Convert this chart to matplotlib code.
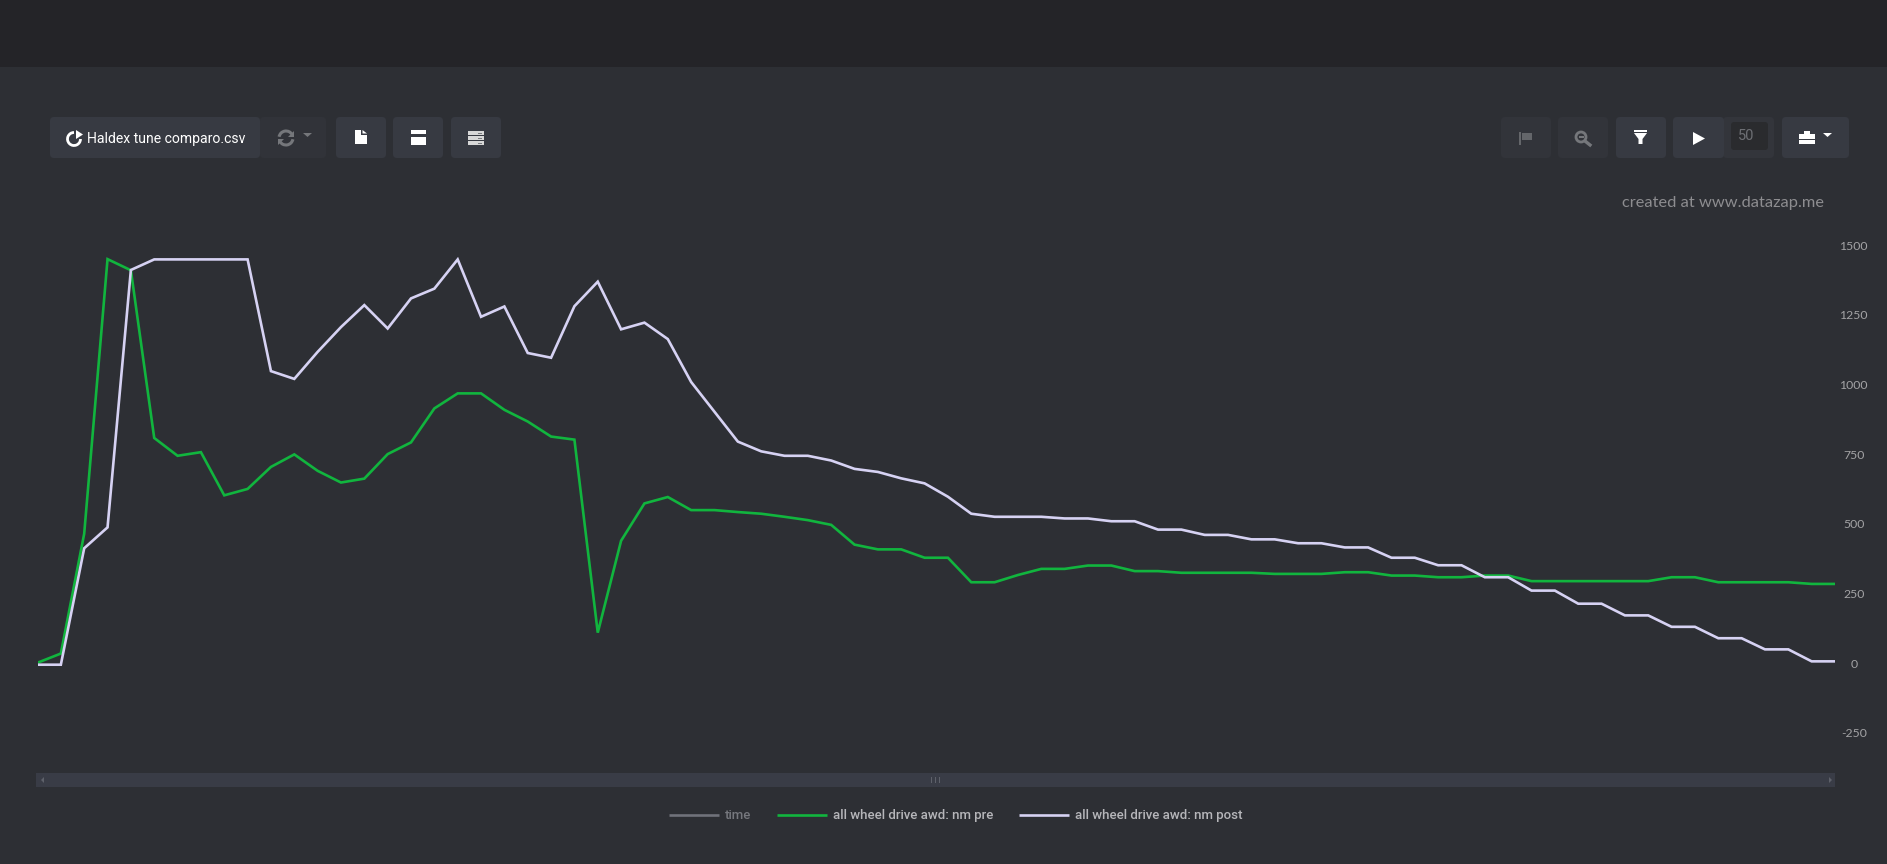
import matplotlib
matplotlib.use("Agg")
import matplotlib.pyplot as plt
from matplotlib.patches import FancyBboxPatch, Polygon, Rectangle, Arc, Circle
from matplotlib.transforms import ScaledTranslation

W, H = 1887, 864

# values (one sample per step, 78 samples)
nm_pre = [7, 40, 470, 1456, 1416, 814, 750, 763, 608, 631, 710, 755, 696, 654, 668, 756, 798,
          920, 974, 974, 915, 873, 819, 808, 115, 445, 579, 602, 555, 555, 548, 542, 531, 519,
          502, 431, 414, 414, 384, 384, 296, 296, 322, 344, 344, 356, 356, 336, 336, 330, 330,
          330, 330, 326, 326, 326, 332, 332, 320, 320, 314, 314, 320, 320, 300, 300, 300, 300,
          300, 300, 314, 314, 296, 296, 296, 296, 290, 290]
nm_post = [0, 0, 418, 493, 1417, 1455, 1455, 1455, 1455, 1455, 1054, 1026, 1123, 1212, 1291, 1207,
           1315, 1350, 1455, 1249, 1286, 1119, 1102, 1287, 1375, 1204, 1228, 1169, 1015, 908, 801,
           766, 750, 750, 733, 703, 692, 669, 651, 603, 542, 531, 531, 531, 525, 525, 515, 515,
           485, 485, 466, 466, 450, 450, 436, 436, 421, 421, 384, 384, 357, 357, 314, 314, 266,
           266, 219, 219, 177, 177, 136, 136, 95, 95, 55, 55, 12, 12]
y_ticks = [-250, 0, 250, 500, 750, 1000, 1250, 1500]
y_labels = ['-250', '0', '250', '500', '750', '1000', '1250', '1500']

BG = '#2d2f34'
TOP = '#242428'
BTN = '#373a42'
FAINT = '#32343a'
GREEN = '#11b53e'
LAVENDER = '#d6d2f3'

plt.rcParams['font.family'] = ['Roboto', 'DejaVu Sans']

fig = plt.figure(figsize=(W / 100, H / 100), dpi=100, facecolor=BG)

# chart axes, sized in pixels of the screenshot
left, right, top, bottom = 37.5, 1835, 235, 760
zero_y = 664.7
units_per_px = 3.59
ax = fig.add_axes([left / W, 1 - bottom / H, (right - left) / W, (bottom - top) / H])
ax.set_facecolor('none')
ax.plot(range(len(nm_pre)), nm_pre, color=GREEN, lw=1.9, solid_joinstyle='miter', solid_capstyle='butt')
ax.plot(range(len(nm_post)), nm_post, color=LAVENDER, lw=1.9, solid_joinstyle='miter', solid_capstyle='butt')
ax.set_xlim(0, len(nm_pre) - 1)
ax.set_ylim((zero_y - bottom) * units_per_px, (zero_y - top) * units_per_px)
ax.yaxis.tick_right()
ax.set_yticks(y_ticks)
ax.set_yticklabels(y_labels, family='Lato', fontsize=8.8, color='#a3a3a5', ha='center', va='center')
ax.tick_params(axis='y', length=0, pad=13.5)
# the labels sit a little above the zero of the lines
shift = ScaledTranslation(0, 0.7 / 100, fig.dpi_scale_trans)
for lab in ax.get_yticklabels():
    lab.set_transform(lab.get_transform() + shift)
ax.set_xticks([])
for s in ax.spines.values():
    s.set_visible(False)

# page chrome, drawn in screenshot pixels
ui = fig.add_axes([0, 0, 1, 1], zorder=-1)
ui.set_xlim(0, W)
ui.set_ylim(H, 0)
ui.axis('off')
ui.add_patch(Rectangle((0, 0), W, 67, color=TOP, lw=0))


def button(x0, x1, color=BTN, y0=117, y1=158, r=4):
    ui.add_patch(FancyBboxPatch((x0 + r, y0 + r), x1 - x0 - 2 * r, y1 - y0 - 2 * r,
                                boxstyle='round,pad=%d,rounding_size=%d' % (r, r), fc=color, ec='none'))


def poly(pts, color='white'):
    ui.add_patch(Polygon(pts, closed=True, fc=color, ec='none'))


def box(x0, y0, x1, y1, color='white'):
    ui.add_patch(Rectangle((x0, y0), x1 - x0, y1 - y0, fc=color, ec='none'))


button(260, 326, '#313339')
button(50, 260)
button(336, 386)
button(393, 443)
button(451, 501)
button(1501, 1551, FAINT)
button(1558, 1608, FAINT)
button(1616, 1666)
button(1723, 1774, '#33353b')
button(1673, 1724)
button(1782, 1849)
button(1731, 1768, '#2a2b2e', 122, 150, 3)

ui.text(87, 138.5, 'Haldex tune comparo.csv', fontsize=10.1, color='white', va='center', ha='left')
ui.text(1746, 136, '50', fontsize=10.5, color='#6d6f74', va='center', ha='center')
ui.text(1824, 203, 'created at www.datazap.me', family='Lato', fontsize=11.8, color='#8d8d90',
        va='center', ha='right')

# share icon
ui.add_patch(Arc((74, 139), 13, 13, theta1=0, theta2=270, color='white', lw=2))
poly([(76, 130), (83, 134.5), (76, 139)])
# reload icon
ui.add_patch(Arc((286, 138), 14, 14, theta1=190, theta2=330, color='#75777b', lw=2.2))
ui.add_patch(Arc((286, 138), 14, 14, theta1=10, theta2=150, color='#75777b', lw=2.2))
poly([(278, 139), (284, 139), (278, 145)], '#75777b')
poly([(294, 137), (288, 137), (294, 131)], '#75777b')
poly([(303, 133), (312, 133), (307.5, 137)], '#75777b')
# file icon
poly([(355, 130), (361, 130), (361, 135), (367, 135), (367, 144), (355, 144)])
poly([(362.5, 130), (367, 133.5), (362.5, 133.5)])
# window icon
box(411, 130, 426, 134)
box(411, 136.5, 426, 144.5)
# server icon
for y in (131, 136, 141):
    box(468, y, 484, y + 4, '#d8d8d8')
    box(478, y + 1.5, 482, y + 2.5, '#7a7c80')
# flag icon
box(1519, 132, 1520.5, 145, '#64666a')
poly([(1522, 133), (1532, 133), (1532, 140), (1522, 140)], '#64666a')
# zoom-out icon
ui.add_patch(Circle((1581, 137), 5, fc='none', ec='#75777b', lw=2))
box(1578.5, 136.2, 1583.5, 137.8, '#75777b')
ui.plot([1585, 1590], [141, 145], color='#75777b', lw=2.4)
# filter icon
box(1634, 130, 1647, 131.5)
poly([(1634, 133), (1647, 133), (1642.5, 139), (1642.5, 144), (1638.5, 144), (1638.5, 139)])
# play icon
poly([(1693, 132), (1705, 138.5), (1693, 145)])
# briefcase icon
box(1799, 134, 1815, 144)
box(1804, 131, 1810, 134)
box(1799, 138.6, 1815, 139.6, BTN)
poly([(1823, 133), (1832, 133), (1827.5, 137)])

# scrollbar
box(36, 773, 1835, 787, '#393c46')
for x in (931, 935, 939):
    box(x - 0.5, 777, x + 0.5, 783, '#5e616a')
poly([(44, 777), (44, 783), (41, 780)], '#5e616a')
poly([(1829, 777), (1829, 783), (1832, 780)], '#5e616a')

# legend
legend_names = ['time', 'all wheel drive awd: nm pre', 'all wheel drive awd: nm post']
legend_colors = ['#70727a', GREEN, LAVENDER]
legend_text_colors = ['#76787e', '#b6b6ba', '#b6b6ba']
legend_x = [(669, 719), (777, 827), (1019, 1069)]
for name, col, tcol, (x0, x1) in zip(legend_names, legend_colors, legend_text_colors, legend_x):
    ui.plot([x0, x1], [815, 815], color=col, lw=1.9, solid_capstyle='butt')
    ui.text(x1 + 6, 815.5, name, fontsize=9.5, fontweight='medium', color=tcol, va='center', ha='left')

fig.savefig('out.png', dpi=100, facecolor=BG)
